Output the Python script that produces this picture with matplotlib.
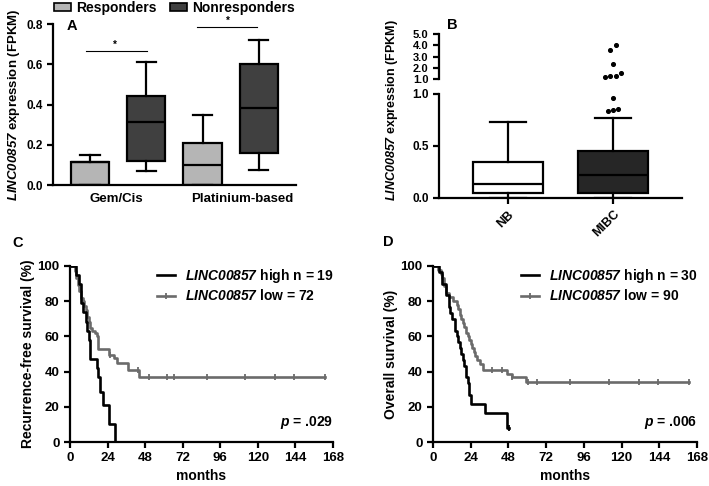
import numpy as np
import matplotlib
matplotlib.use('Agg')
import matplotlib.pyplot as plt
from matplotlib.patches import Patch
from matplotlib.lines import Line2D

plt.rcParams['font.family'] = ['Liberation Sans', 'DejaVu Sans']
plt.rcParams['font.weight'] = 'bold'
plt.rcParams['axes.labelweight'] = 'bold'
plt.rcParams['mathtext.fontset'] = 'custom'
plt.rcParams['mathtext.bf'] = 'Liberation Sans:bold:italic'
plt.rcParams['mathtext.rm'] = 'Liberation Sans:bold'
plt.rcParams['axes.linewidth'] = 1.6

# panel A: box stats (min, q1, median, q3, max)
groups_a = ['Gem/Cis', 'Platinium-based']
resp_stats = [[0.0, 0.0, 0.113, 0.115, 0.15], [0.0, 0.0, 0.10, 0.21, 0.35]]
nonresp_stats = [[0.07, 0.12, 0.315, 0.44, 0.61], [0.075, 0.16, 0.385, 0.60, 0.72]]

# panel B
cats_b = ['NB', 'MIBC']
b_stats = [[0.0, 0.05, 0.13, 0.35, 0.73], [0.0, 0.05, 0.22, 0.45, 0.77]]
mibc_outliers = [0.84, 0.85, 0.86, 0.96, 1.15, 1.25, 1.25, 1.5, 2.3, 3.6, 4.0]

# panel C: Kaplan-Meier steps (time in months, survival %)
c_high_t = [0, 4, 6, 7, 8, 10, 11, 12, 13, 17, 18, 19, 21, 25, 29]
c_high_s = [100, 94.7, 89.5, 78.9, 73.7, 68.4, 63.2, 57.9, 47.4, 42.1, 36.8, 28.4, 21.1, 10.5, 0]
c_low_t = [0, 3, 4, 5, 6, 7, 8, 9, 10, 11, 12, 13, 14, 16, 17, 18, 25, 28, 30, 37, 44, 163]
c_low_s = [100, 97, 93, 89, 86, 82, 80, 77, 75, 71, 68, 65, 63, 62, 60, 52.7, 49.4, 47.9, 44.7, 40.9, 37.1, 37.1]
c_low_cens = [25.6, 43.5, 50.6, 62.2, 66.2, 87.2, 112, 131, 143, 163]

# panel D
d_high_t = [0, 4, 6, 8, 10, 11, 12, 14, 15, 16, 17, 18, 19, 20, 21, 22, 23, 24, 33, 47, 48.5]
d_high_s = [100, 96.7, 90, 83.3, 76.7, 73.3, 70, 63.3, 60, 56.7, 53.3, 50, 46.7, 43.3, 36.7, 33.3, 26.7, 21.7, 16.3, 8.1, 8.1]
d_low_t = [0, 3, 5, 6, 7, 8, 10, 13, 15, 16, 17, 18, 19, 20, 21, 22, 23, 24, 25, 26, 27, 28, 30, 32, 47, 50, 59, 163]
d_low_s = [100, 97.8, 95.6, 93.3, 88.9, 84.4, 82.2, 80, 77.8, 75.6, 72.2, 70, 67.8, 65.6, 62.2, 60, 57.8, 55.6,
           53.3, 51.1, 48.9, 46.7, 44.4, 40.8, 38.8, 37.2, 34.3, 34.3]
d_low_cens = [37.5, 43.7, 50, 60.5, 66.3, 87, 112, 131, 143, 163]

GREY = '#6b6b6b'
GENE = '$\\mathbf{LINC00857}$'


def stats(v, label=''):
    return dict(whislo=v[0], q1=v[1], med=v[2], q3=v[3], whishi=v[4], label=label)


def draw_box(ax, st, pos, color, width):
    ax.bxp([stats(st)], positions=[pos], widths=width, showfliers=False, patch_artist=True,
           boxprops=dict(facecolor=color, edgecolor='black', linewidth=1.6),
           medianprops=dict(color='black', linewidth=1.6),
           whiskerprops=dict(color='black', linewidth=1.6),
           capprops=dict(color='black', linewidth=1.6), manage_ticks=False)


def style(ax):
    ax.spines['top'].set_visible(False)
    ax.spines['right'].set_visible(False)
    ax.tick_params(direction='out', width=1.6, length=4)


fig = plt.figure(figsize=(7.09, 4.86), dpi=100)

# ---- A
axA = fig.add_axes([0.0748, 0.6193, 0.3427, 0.3313])
style(axA)
for i in range(2):
    draw_box(axA, resp_stats[i], 2 * i, '#b5b5b5', 0.68)
    draw_box(axA, nonresp_stats[i], 2 * i + 1, '#404040', 0.68)
axA.set_xlim(-0.657, 3.66)
axA.set_ylim(0, 0.8)
axA.set_yticks([0, 0.2, 0.4, 0.6, 0.8])
axA.set_yticklabels(['0.0', '0.2', '0.4', '0.6', '0.8'], fontsize=8.5)
axA.set_xticks([0.47, 2.7])
axA.set_xticklabels(groups_a, fontsize=9.5)
axA.tick_params(axis='x', length=0, pad=6)
axA.set_ylabel(GENE + ' expression (FPKM)', fontsize=9.5, labelpad=3)
axA.plot([-0.07, 1.01], [0.665, 0.665], color='black', lw=0.8)
axA.text(0.45, 0.672, '*', ha='center', va='bottom', fontsize=7)
axA.plot([1.9, 2.97], [0.785, 0.785], color='black', lw=0.8)
axA.text(2.45, 0.792, '*', ha='center', va='bottom', fontsize=7)
axA.text(0.058, 0.99, 'A', transform=axA.transAxes, fontsize=10.5, va='center', ha='left')
axA.legend(handles=[Patch(facecolor='#b5b5b5', edgecolor='black', lw=1.2, label='Responders'),
                    Patch(facecolor='#404040', edgecolor='black', lw=1.2, label='Nonresponders')],
           loc='center', bbox_to_anchor=(0.5, 1.1), ncol=2, frameon=False, fontsize=10,
           handlelength=1.2, handleheight=0.6, columnspacing=1.0, handletextpad=0.35, borderpad=0)

# ---- B
axB = fig.add_axes([0.6192, 0.5926, 0.3427, 0.214])
axBt = fig.add_axes([0.6192, 0.8374, 0.3427, 0.0926])
style(axB)
for sp in ['top', 'right', 'bottom']:
    axBt.spines[sp].set_visible(False)
axBt.tick_params(direction='out', width=1.6, length=4)
axBt.set_xticks([])
draw_box(axB, b_stats[0], 0, 'white', 0.67)
draw_box(axB, b_stats[1], 1, '#262626', 0.67)
for ax in (axB, axBt):
    ax.set_xlim(-0.657, 1.657)
axB.set_ylim(0, 1.0)
axBt.set_ylim(1.0, 5.0)
axB.set_yticks([0, 0.5, 1.0])
axB.set_yticklabels(['0.0', '0.5', '1.0'], fontsize=8.5)
axBt.set_yticks([1, 2, 3, 4, 5])
axBt.set_yticklabels(['1.0', '2.0', '3.0', '4.0', '5.0'], fontsize=8)
axB.set_xticks([0, 1])
axB.set_xticklabels(cats_b, fontsize=9, rotation=45, ha='right', rotation_mode='anchor')

# spread outliers that sit close together
out = np.array(sorted(mibc_outliers))
for ax, lo, hi, tol in [(axB, 0, 1.0, 0.05), (axBt, 1.0, 5.1, 0.45)]:
    vals = out[(out > lo) & (out <= hi)]
    clusters = []
    for v in vals:
        if clusters and v - clusters[-1][-1] < tol:
            clusters[-1].append(v)
        else:
            clusters.append([v])
    for cl in clusters:
        k = len(cl)
        offs = (np.arange(k) - (k - 1) / 2) * 0.05
        ax.scatter(1 + offs, cl, s=7, color='black', zorder=5, clip_on=False)
fig.text(392 / 709, 1 - 110 / 486, GENE + ' expression (FPKM)', rotation=90,
         fontsize=9, ha='center', va='center')
fig.text(452 / 709, 1 - 25 / 486, 'B', fontsize=10.5, ha='center', va='center')


# ---- C and D
def km(ax, ht, hs, lt, ls, cens, hlab, llab, ylab, ptxt, high_end_tick=False):
    style(ax)
    ax.step(ht, hs, where='post', color='black', lw=1.9, zorder=4)
    ax.step(lt, ls, where='post', color=GREY, lw=1.9, zorder=3)
    lt_a = np.array(lt)
    ls_a = np.array(ls)
    cy = [ls_a[np.searchsorted(lt_a, c, side='right') - 1] for c in cens]
    ax.plot(cens, cy, ls='none', marker='|', ms=4, mew=1.3, color=GREY, zorder=3)
    if high_end_tick:
        ax.plot([ht[-1]], [hs[-1]], ls='none', marker='|', ms=4, mew=1.3, color='black')
    ax.set_xlim(0, 168)
    ax.set_ylim(0, 100)
    ax.set_xticks(np.arange(0, 169, 24))
    ax.set_yticks(np.arange(0, 101, 20))
    ax.tick_params(labelsize=9.5)
    ax.set_xlabel('months', fontsize=10, labelpad=3)
    ax.set_ylabel(ylab, fontsize=10, labelpad=2)
    ax.legend(handles=[Line2D([], [], color='black', lw=1.9, label=hlab),
                       Line2D([], [], color=GREY, lw=1.9, marker='|', ms=4, mew=1.3, label=llab)],
              loc='upper right', bbox_to_anchor=(1.04, 1.05), frameon=False, fontsize=10,
              handlelength=1.3, handletextpad=0.7, labelspacing=0.25, borderpad=0.2)
    ax.text(1.0, 0.11, ptxt, transform=ax.transAxes, ha='right', va='center', fontsize=10)


axC = fig.add_axes([0.0987, 0.0905, 0.371, 0.3622])
km(axC, c_high_t, c_high_s, c_low_t, c_low_s, c_low_cens,
   GENE + ' high n = 19', GENE + ' low = 72',
   'Recurrence-free survival (%)', '$\\mathbf{p}$ = .029')
axD = fig.add_axes([0.6107, 0.0905, 0.3723, 0.3622])
km(axD, d_high_t, d_high_s, d_low_t, d_low_s, d_low_cens,
   GENE + ' high n = 30', GENE + ' low = 90',
   'Overall survival (%)', '$\\mathbf{p}$ = .006', high_end_tick=True)
fig.text(18 / 709, 1 - 243 / 486, 'C', fontsize=10.5, ha='center', va='center')
fig.text(388 / 709, 1 - 242 / 486, 'D', fontsize=10.5, ha='center', va='center')

fig.savefig('out.png', dpi=100)
